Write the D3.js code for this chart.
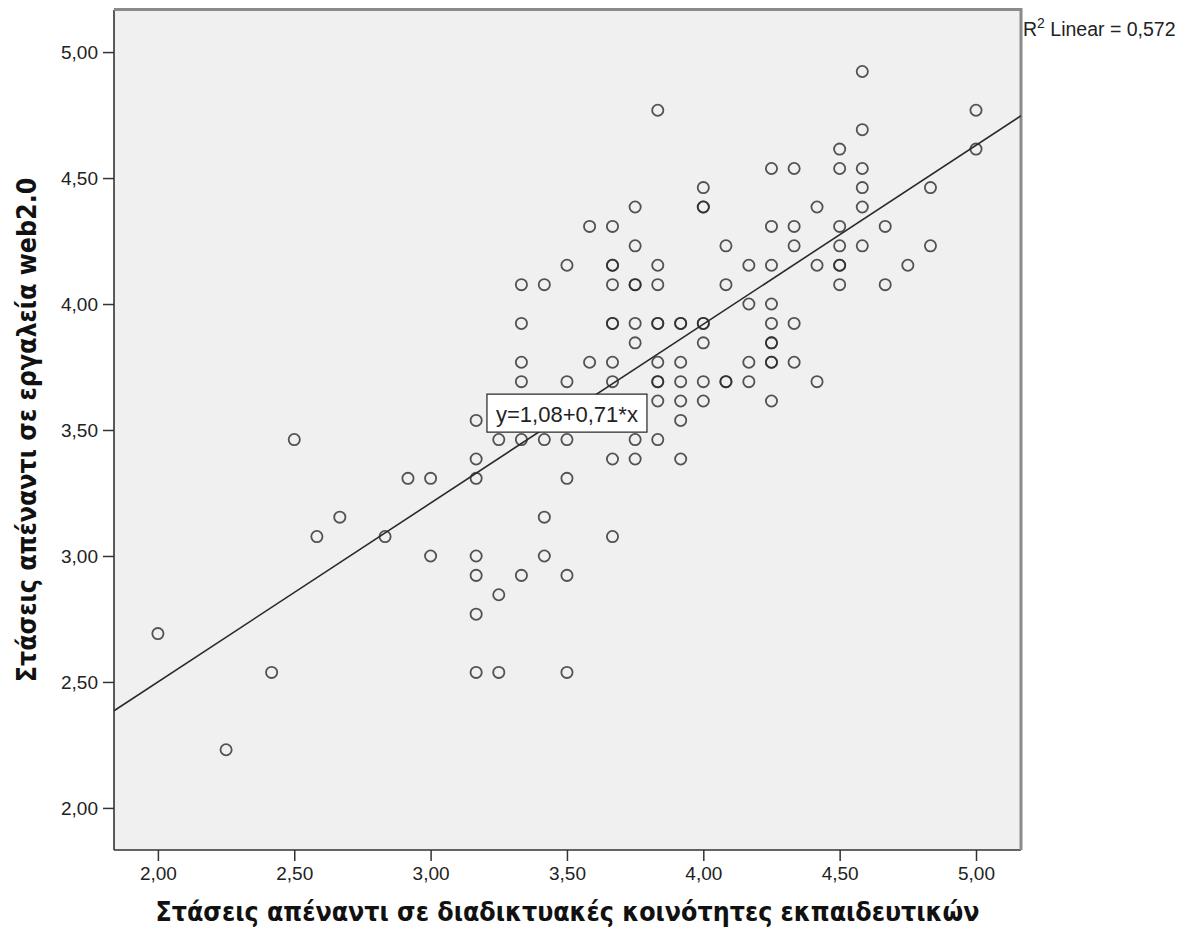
<!DOCTYPE html>
<meta charset="utf-8">
<head>
<style>
  body { margin: 0; background: #fff; }
  svg text { font-family: "Liberation Sans", Arial, sans-serif; fill: #222; }
  .tick text { font-size: 19px; }
  .axis-title { font-family: "DejaVu Sans Condensed", "DejaVu Sans", sans-serif; font-weight: bold; font-size: 26.5px; fill: #111; }
</style>
</head>
<body>
<div id="chart"></div>
<script src="https://d3js.org/d3.v7.min.js"></script>
<script>

// points, one line per x level
var xValues = [
  2.000, 2.250, 2.417, 2.500, 2.583, 2.667, 2.833, 2.917,
  3.000, 3.000,
  3.167, 3.167, 3.167, 3.167, 3.167, 3.167, 3.167,
  3.250, 3.250, 3.250,
  3.333, 3.333, 3.333, 3.333, 3.333, 3.333,
  3.417, 3.417, 3.417, 3.417,
  3.500, 3.500, 3.500, 3.500, 3.500, 3.500,
  3.583, 3.583,
  3.667, 3.667, 3.667, 3.667, 3.667, 3.667, 3.667, 3.667, 3.667, 3.667,
  3.750, 3.750, 3.750, 3.750, 3.750, 3.750, 3.750, 3.750,
  3.833, 3.833, 3.833, 3.833, 3.833, 3.833, 3.833, 3.833, 3.833, 3.833,
  3.917, 3.917, 3.917, 3.917, 3.917, 3.917, 3.917,
  4.000, 4.000, 4.000, 4.000, 4.000, 4.000, 4.000, 4.000,
  4.083, 4.083, 4.083, 4.083,
  4.167, 4.167, 4.167, 4.167,
  4.250, 4.250, 4.250, 4.250, 4.250, 4.250, 4.250, 4.250, 4.250, 4.250,
  4.333, 4.333, 4.333, 4.333, 4.333,
  4.417, 4.417, 4.417,
  4.500, 4.500, 4.500, 4.500, 4.500, 4.500, 4.500,
  4.583, 4.583, 4.583, 4.583, 4.583, 4.583,
  4.667, 4.667,
  4.750,
  4.833, 4.833,
  5.000, 5.000
];
var yValues = [
  2.692, 2.231, 2.538, 3.462, 3.077, 3.154, 3.077, 3.308,
  3.308, 3.000,
  3.538, 3.385, 3.308, 3.000, 2.923, 2.769, 2.538,
  3.462, 2.846, 2.538,
  4.077, 3.923, 3.769, 3.692, 3.462, 2.923,
  4.077, 3.462, 3.154, 3.000,
  4.154, 3.692, 3.462, 3.308, 2.923, 2.538,
  4.308, 3.769,
  4.308, 4.154, 4.154, 4.077, 3.923, 3.923, 3.769, 3.692, 3.385, 3.077,
  4.385, 4.231, 4.077, 4.077, 3.923, 3.846, 3.462, 3.385,
  4.769, 4.154, 4.077, 3.923, 3.923, 3.769, 3.692, 3.692, 3.615, 3.462,
  3.923, 3.923, 3.769, 3.692, 3.615, 3.538, 3.385,
  4.462, 4.385, 4.385, 3.923, 3.923, 3.846, 3.692, 3.615,
  4.231, 4.077, 3.692, 3.692,
  4.154, 4.000, 3.769, 3.692,
  4.538, 4.308, 4.154, 4.000, 3.923, 3.846, 3.846, 3.769, 3.769, 3.615,
  4.538, 4.308, 4.231, 3.923, 3.769,
  4.385, 4.154, 3.692,
  4.615, 4.538, 4.308, 4.231, 4.154, 4.154, 4.077,
  4.923, 4.692, 4.538, 4.462, 4.385, 4.231,
  4.308, 4.077,
  4.154,
  4.462, 4.231,
  4.769, 4.615
];

var xTicks = [2, 2.5, 3, 3.5, 4, 4.5, 5];
var yTicks = [2, 2.5, 3, 3.5, 4, 4.5, 5];
var intercept = 1.08, slope = 0.71, rSquared = 0.572;

var xTitle = "Στάσεις απέναντι σε διαδικτυακές κοινότητες εκπαιδευτικών";
var yTitle = "Στάσεις απέναντι σε εργαλεία web2.0";

var margin = {top: 10, right: 173, bottom: 89, left: 114},
    width = 1194 - margin.left - margin.right,
    height = 939 - margin.top - margin.bottom;

var svg = d3.select("#chart")
  .append("svg")
    .attr("width", 1194)
    .attr("height", 939)
  .append("g")
    .attr("transform", "translate(" + margin.left + "," + margin.top + ")");

var x = d3.scaleLinear().domain([1.839, 5.165]).range([0, width]);
var y = d3.scaleLinear().domain([1.833, 5.167]).range([height, 0]);

var comma = function(d) { return d3.format(".2f")(d).replace(".", ","); };

// plot area
svg.append("rect")
  .attr("width", width)
  .attr("height", height)
  .attr("fill", "#f0f0f0");

svg.append("defs").append("clipPath").attr("id", "clip")
  .append("rect").attr("width", width).attr("height", height);

// axes
var xAxis = svg.append("g")
  .attr("transform", "translate(0," + height + ")")
  .call(d3.axisBottom(x).tickValues(xTicks).tickFormat(comma).tickSize(11).tickPadding(6));
var yAxis = svg.append("g")
  .call(d3.axisLeft(y).tickValues(yTicks).tickFormat(comma).tickSize(11).tickPadding(5));

[xAxis, yAxis].forEach(function(a) {
  a.select(".domain").remove();
  a.selectAll(".tick line").attr("stroke", "#333").attr("stroke-width", 1.5);
  a.selectAll(".tick text").attr("fill", "#333");
});

// frame: dark left/bottom, grey top/right
svg.append("line").attr("x1", 0).attr("x2", 0).attr("y1", 0).attr("y2", height)
  .attr("stroke", "#333").attr("stroke-width", 1.6);
svg.append("line").attr("x1", 0).attr("x2", width).attr("y1", height).attr("y2", height)
  .attr("stroke", "#333").attr("stroke-width", 1.6);
svg.append("line").attr("x1", 0).attr("x2", width + 1).attr("y1", -0.5).attr("y2", -0.5)
  .attr("stroke", "#8a8a8a").attr("stroke-width", 3);
svg.append("line").attr("x1", width).attr("x2", width).attr("y1", -2).attr("y2", height)
  .attr("stroke", "#8a8a8a").attr("stroke-width", 3);

// fit line
var xd = x.domain();
svg.append("line")
  .attr("clip-path", "url(#clip)")
  .attr("x1", x(xd[0])).attr("y1", y(intercept + slope * xd[0]))
  .attr("x2", x(xd[1])).attr("y2", y(intercept + slope * xd[1]))
  .attr("stroke", "#2a2a2a")
  .attr("stroke-width", 1.6);

// points
svg.selectAll(".pt")
  .data(xValues)
  .enter()
  .append("circle")
    .attr("class", "pt")
    .attr("cx", function(d) { return x(d); })
    .attr("cy", function(d, i) { return y(yValues[i]); })
    .attr("r", 5.6)
    .attr("fill", "none")
    .attr("stroke", "#2a2a2a")
    .attr("stroke-width", 1.8)
    .attr("stroke-opacity", 0.8);

// equation label on the line
var lx = 3.5, ly = intercept + slope * lx;
var eq = svg.append("g").attr("transform", "translate(" + x(lx) + "," + y(ly) + ")");
eq.append("rect")
  .attr("x", -80).attr("y", -19.5)
  .attr("width", 160).attr("height", 38)
  .attr("fill", "#fff").attr("stroke", "#222").attr("stroke-width", 1.2);
eq.append("text")
  .attr("text-anchor", "middle")
  .attr("y", 8)
  .style("font-size", "22px")
  .text("y=" + comma(intercept) + "+" + comma(slope) + "*x");

// R² label
var r2 = svg.append("text")
  .attr("x", width + 2)
  .attr("y", 26)
  .style("font-size", "19.5px");
r2.append("tspan").text("R");
r2.append("tspan").attr("dy", -8).style("font-size", "14px").text("2");
r2.append("tspan").attr("dy", 8).text(" Linear = " + d3.format(".3f")(rSquared).replace(".", ","));

// axis titles
svg.append("text")
  .attr("class", "axis-title")
  .attr("text-anchor", "middle")
  .attr("x", width / 2)
  .attr("y", height + 71)
  .text(xTitle);

svg.append("text")
  .attr("class", "axis-title")
  .attr("text-anchor", "middle")
  .attr("transform", "translate(" + (-78) + "," + (height / 2) + ") rotate(-90)")
  .text(yTitle);

</script>
</body>
